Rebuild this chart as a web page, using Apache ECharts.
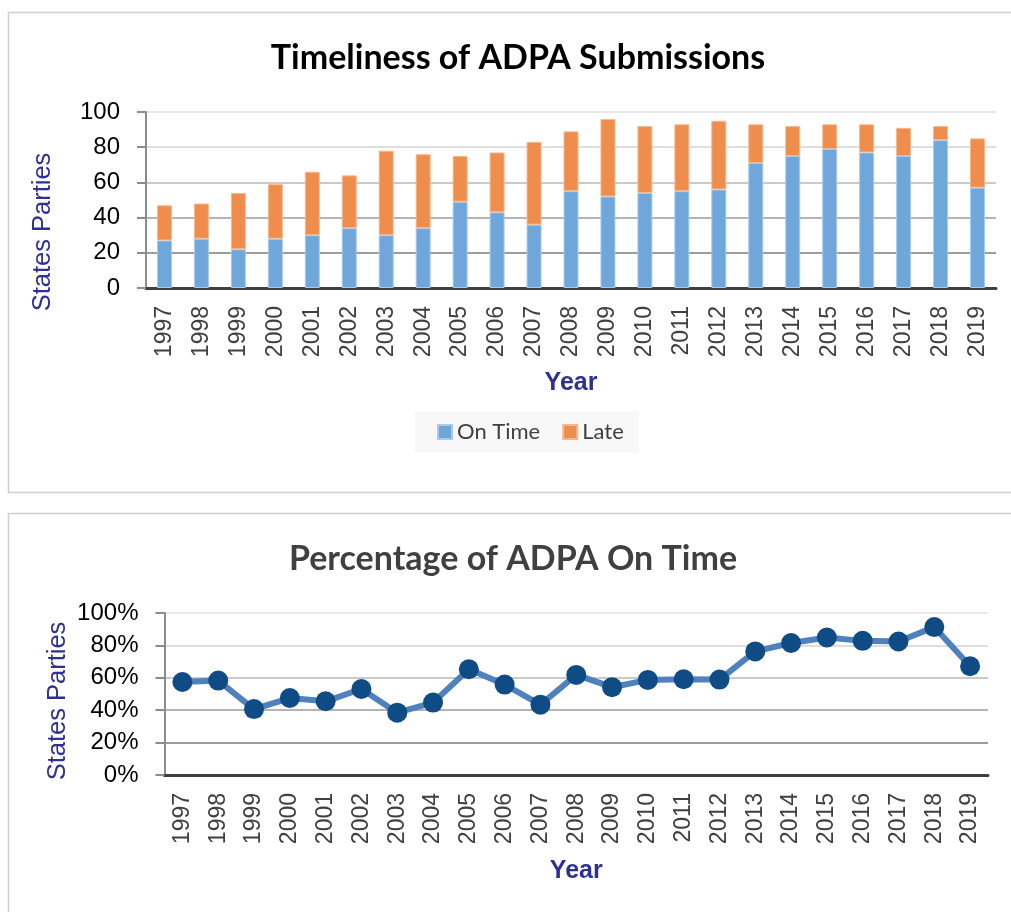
<!DOCTYPE html>
<html>
<head>
<meta charset="utf-8">
<script src="https://cdn.jsdelivr.net/npm/echarts@6/dist/echarts.min.js"></script>
<style>
html,body{margin:0;padding:0;background:#fff;}
#c{width:1011px;height:912px;}
</style>
</head>
<body>
<div id="c"></div>
<script>
var years = ['1997','1998','1999','2000','2001','2002','2003','2004','2005','2006','2007','2008','2009','2010','2011','2012','2013','2014','2015','2016','2017','2018','2019'];
var onTime = [27,28,22,28,30,34,30,34,49,43,36,55,52,54,55,56,71,75,79,77,75,84,57];
var late = [20,20,32,31,36,30,48,42,26,34,47,34,44,38,38,39,22,17,14,16,16,8,28];
var pctOnTime = [57.4,58.3,40.7,47.5,45.5,53.1,38.5,44.7,65.3,55.8,43.4,61.8,54.2,58.7,59.1,58.9,76.3,81.5,84.9,82.8,82.4,91.3,67.1];
var countTicks = [0,20,40,60,80,100];
var pctTicks = [0,20,40,60,80,100];

var chart = echarts.init(document.getElementById('c'));
var gridColors = ['#999999','#9c9c9c','#b4b4b4','#cacaca','#dedede','#e8e8e8'];
var axisFont = 'Liberation Sans, Arial, sans-serif';
var nameColor = '#2e3192';

chart.setOption({
  animation: false,
  backgroundColor: '#ffffff',
  graphic: [
    {type:'rect', shape:{x:8.5,y:12.5,width:1020,height:480}, style:{fill:'none',stroke:'#d0d0d0',lineWidth:1.5}, z:-1},
    {type:'rect', shape:{x:8.5,y:513.5,width:1020,height:420}, style:{fill:'none',stroke:'#d0d0d0',lineWidth:1.5}, z:-1},
    {type:'text', x:42.5, y:232, rotation:Math.PI/2,
     style:{text:'States Parties', fontFamily:axisFont, fontSize:25.5, fill:nameColor, textAlign:'center', textVerticalAlign:'middle'}},
    {type:'text', x:58, y:701, rotation:Math.PI/2,
     style:{text:'States Parties', fontFamily:axisFont, fontSize:25.5, fill:nameColor, textAlign:'center', textVerticalAlign:'middle'}}
  ],
  title: [
    {text:'Timeliness of ADPA Submissions', left:513, top:36, textAlign:'center',
     textStyle:{fontFamily:'Lato, sans-serif', fontWeight:'bold', fontSize:34, color:'#000000'}},
    {text:'Percentage of ADPA On Time', left:508, top:537, textAlign:'center',
     textStyle:{fontFamily:'Lato, sans-serif', fontWeight:'bold', fontSize:34, color:'#404040'}}
  ],
  legend: {
    data:['On Time','Late'], left:415, top:411, orient:'horizontal',
    backgroundColor:'#f8f8f8', padding:[10,15,10,22], itemGap:22,
    itemWidth:14, itemHeight:14, icon:'rect',
    textStyle:{fontFamily:'Lato, sans-serif', fontSize:22, color:'#404040'}
  },
  grid: [
    {left:146, right:15, top:112, bottom:624, containLabel:false},
    {left:164.5, right:23, top:613, bottom:137, containLabel:false}
  ],
  xAxis: [
    {type:'category', gridIndex:0, data:years, boundaryGap:true,
     name:'Year', nameLocation:'middle', nameGap:83,
     nameTextStyle:{fontFamily:axisFont, fontSize:25, fontWeight:'bold', color:nameColor},
     axisLine:{show:true, lineStyle:{color:'#404040', width:3}},
     axisTick:{show:false},
     axisLabel:{rotate:90, margin:18, interval:0, fontFamily:axisFont, fontSize:23, color:'#404040'}},
    {type:'category', gridIndex:1, data:years, boundaryGap:true,
     name:'Year', nameLocation:'middle', nameGap:84,
     nameTextStyle:{fontFamily:axisFont, fontSize:25, fontWeight:'bold', color:nameColor},
     axisLine:{show:true, lineStyle:{color:'#404040', width:3}},
     axisTick:{show:false},
     axisLabel:{rotate:90, margin:18, interval:0, fontFamily:axisFont, fontSize:23, color:'#404040'}}
  ],
  yAxis: [
    {type:'value', gridIndex:0, min:countTicks[0], max:countTicks[countTicks.length-1], interval:20,
     axisLine:{show:true, lineStyle:{color:'#8c8c8c', width:2}},
     axisTick:{show:true, length:9, lineStyle:{color:'#8c8c8c', width:2}},
     splitLine:{show:true, lineStyle:{color:gridColors, width:2}},
     axisLabel:{margin:26, fontFamily:axisFont, fontSize:24, color:'#000000'}},
    {type:'value', gridIndex:1, min:pctTicks[0], max:pctTicks[pctTicks.length-1], interval:20,
     axisLine:{show:true, lineStyle:{color:'#8c8c8c', width:2}},
     axisTick:{show:true, length:9, lineStyle:{color:'#8c8c8c', width:2}},
     splitLine:{show:true, lineStyle:{color:gridColors, width:2}},
     axisLabel:{margin:26, fontFamily:axisFont, fontSize:24, color:'#000000', formatter:'{value}%'}}
  ],
  series: [
    {name:'On Time', type:'bar', xAxisIndex:0, yAxisIndex:0, stack:'total', data:onTime, barWidth:15,
     itemStyle:{color:'#70a7db', borderColor:'#a9caea', borderWidth:1}},
    {name:'Late', type:'bar', xAxisIndex:0, yAxisIndex:0, stack:'total', data:late, barWidth:15,
     itemStyle:{color:'#ef8d4c', borderColor:'#f7b78e', borderWidth:1}},
    {name:'Percentage On Time', type:'line', xAxisIndex:1, yAxisIndex:1, data:pctOnTime,
     symbol:'circle', symbolSize:20, showSymbol:true,
     lineStyle:{color:'#4f81bd', width:6},
     itemStyle:{color:'#0f4c85', borderWidth:0}}
  ]
});
</script>
</body>
</html>
